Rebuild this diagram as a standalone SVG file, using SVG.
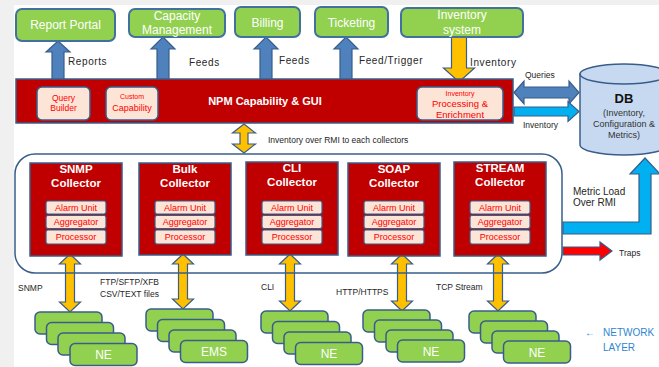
<svg xmlns="http://www.w3.org/2000/svg" width="659" height="367" viewBox="0 0 659 367">
<defs>
<style>
text{font-family:"Liberation Sans",Arial,sans-serif}
.gbox{fill:#92D050;stroke:#41719C;stroke-width:2}
.wt{fill:#fff;font-size:12px;text-anchor:middle}
.lbl{fill:#262626;font-size:10px}
.sl{fill:#262626;font-size:8.5px}
.red{fill:#C00000;stroke:#385D8A;stroke-width:1.5}
.peach{fill:#FCE4D6;stroke:#385D8A;stroke-width:1.5}
.rt{fill:#FF0000;text-anchor:middle}
.ct{fill:#fff;font-size:11.5px;font-weight:bold;text-anchor:middle}
.sub{fill:#FCE4D6;stroke:#385D8A;stroke-width:1.2}
.st{fill:#FF0000;font-size:9px;text-anchor:middle}
.ne{fill:#92D050;stroke:#385D8A;stroke-width:1.5}
.blue{fill:#4F81BD;stroke:#385D8A;stroke-width:1.2}
.orange{fill:#FFC000;stroke:#385D8A;stroke-width:1.2}
.cyan{fill:#00B0F0;stroke:#385D8A;stroke-width:1.2}
.nl{fill:#2E86D0;font-size:10px}
</style>
</defs>
<rect x="0" y="0" width="659" height="367" fill="#F0F0F0"/>
<rect x="14" y="5" width="645" height="362" fill="#FFFFFF"/>

<g id="connectors">
<polygon class="blue" points="58,41 70,52 64,52 64,80 52,80 52,52 46,52"/>
<polygon class="blue" points="163,37 175,49 169,49 169,80 157,80 157,49 151,49"/>
<polygon class="blue" points="266,37 278,49 272,49 272,80 260,80 260,49 254,49"/>
<polygon class="blue" points="346,37 358,49 352,49 352,80 340,80 340,49 334,49"/>
<polygon class="orange" points="451.5,37 466.5,37 466.5,68 474.5,68 459,82 443.5,68 451.5,68"/>
<polygon class="blue" points="514,92.5 524,81 524,87 569,87 569,81 579,92.5 569,104 569,98 524,98 524,104"/>
<polygon class="cyan" points="514,107 568,107 568,101.5 579,111.5 568,121.5 568,116 514,116"/>
<polygon class="orange" points="244,124 255.5,133 248,133 248,144 255.5,144 244,153 232.5,144 240,144 240,133 232.5,133"/>
<path class="cyan" d="M563,222 L639,222 L639,174 L630,174 L645,158 L660,174 L651,174 L651,234 L563,234 Z"/>
<path d="M563,247 L600,247 L600,242 L612,251 L600,260 L600,255 L563,255 Z" fill="#FF0000" stroke="#385D8A" stroke-width="1.2"/>
<polygon class="orange" points="70,254 80.5,264 74.5,264 74.5,302 80.5,302 70,312 59.5,302 65.5,302 65.5,264 59.5,264"/>
<polygon class="orange" points="183,254 193.5,264 187.5,264 187.5,299 193.5,299 183,309 172.5,299 178.5,299 178.5,264 172.5,264"/>
<polygon class="orange" points="290,254 300.5,264 294.5,264 294.5,301 300.5,301 290,311 279.5,301 285.5,301 285.5,264 279.5,264"/>
<polygon class="orange" points="402,254 412.5,264 406.5,264 406.5,301 412.5,301 402,311 391.5,301 397.5,301 397.5,264 391.5,264"/>
<polygon class="orange" points="498,254 508.5,264 502.5,264 502.5,301 508.5,301 498,311 487.5,301 493.5,301 493.5,264 487.5,264"/>
<text class="lbl" x="68" y="65" letter-spacing="0.6">Reports</text>
<text class="lbl" x="189" y="66" letter-spacing="0.6">Feeds</text>
<text class="lbl" x="279" y="64" letter-spacing="0.6">Feeds</text>
<text class="lbl" x="359" y="64" letter-spacing="0.6">Feed/Trigger</text>
<text class="lbl" x="470" y="66" letter-spacing="0.6">Inventory</text>
<text class="sl" x="525" y="78">Queries</text>
<text class="sl" x="523" y="128">Inventory</text>
<text class="sl" x="268" y="143" font-size="9">Inventory over RMI to each collectors</text>
<text class="lbl" x="573" y="195">Metric Load</text>
<text class="lbl" x="573" y="206">Over RMI</text>
<text class="sl" x="619" y="256">Traps</text>
<text class="sl" x="18" y="291">SNMP</text>
<text class="sl" x="100" y="285">FTP/SFTP/XFB</text>
<text class="sl" x="100" y="297">CSV/TEXT files</text>
<text class="sl" x="261" y="290">CLI</text>
<text class="sl" x="336" y="295">HTTP/HTTPS</text>
<text class="sl" x="436" y="290">TCP Stream</text>
</g>

<g id="report-portal"><rect class="gbox" x="16" y="9" width="99" height="32" rx="6"/><text class="wt" x="65.5" y="29">Report Portal</text></g>
<g id="capacity-management"><rect class="gbox" x="129" y="9" width="96" height="28" rx="6"/><text class="wt" x="177" y="20">Capacity</text><text class="wt" x="177" y="34">Management</text></g>
<g id="billing"><rect class="gbox" x="235" y="7" width="65" height="30" rx="6"/><text class="wt" x="267.5" y="27">Billing</text></g>
<g id="ticketing"><rect class="gbox" x="315" y="7" width="73" height="30" rx="6"/><text class="wt" x="351.5" y="27">Ticketing</text></g>
<g id="inventory-system"><rect class="gbox" x="401" y="8" width="122" height="29" rx="6"/><text class="wt" x="462" y="19">Inventory</text><text class="wt" x="462" y="34">system</text></g>

<g id="npm">
<rect class="red" x="16" y="79" width="497" height="44"/>
<text x="265" y="105" fill="#fff" font-size="11px" font-weight="bold" text-anchor="middle">NPM Capability &amp; GUI</text>
<g id="query-builder"><rect class="peach" x="37" y="87" width="53" height="33" rx="5"/><text class="rt" x="63.5" y="101" font-size="8.5">Query</text><text class="rt" x="63.5" y="111" font-size="8.5">Builder</text></g>
<g id="custom-capability"><rect class="peach" x="106" y="87" width="52" height="33" rx="5"/><text class="rt" x="132" y="99" font-size="7">Custom</text><text class="rt" x="132" y="111" font-size="9">Capability</text></g>
<g id="inventory-processing"><rect class="peach" x="417" y="87" width="86" height="33" rx="5"/><text class="rt" x="460" y="96" font-size="7">Inventory</text><text class="rt" x="460" y="107" font-size="9.5">Processing &amp;</text><text class="rt" x="460" y="117.5" font-size="9.5">Enrichment</text></g>
</g>

<g id="db">
<path d="M580,74 L580,145 A44,10 0 0 0 668,145 L668,74 Z" fill="#C6D9F1" stroke="#385D8A" stroke-width="1.5"/>
<ellipse cx="624" cy="74" rx="44" ry="10" fill="#C6D9F1" stroke="#385D8A" stroke-width="1.5"/>
<text x="624" y="103" fill="#111" font-size="13" font-weight="bold" text-anchor="middle">DB</text>
<text x="624" y="116" fill="#333" font-size="9" text-anchor="middle">(Inventory,</text>
<text x="624" y="127" fill="#333" font-size="9" text-anchor="middle">Configuration &amp;</text>
<text x="624" y="138" fill="#333" font-size="9" text-anchor="middle">Metrics)</text>
</g>

<g id="collectors-container"><rect x="15" y="154" width="547" height="119" rx="20" fill="none" stroke="#385D8A" stroke-width="1.5"/></g>

<g id="snmp-collector"><rect class="red" x="30" y="163" width="92" height="93"/><text class="ct" x="76" y="173">SNMP</text><text class="ct" x="76" y="187">Collector</text>
<rect class="sub" x="46" y="201" width="60" height="13" rx="2"/><text class="st" x="76" y="211">Alarm Unit</text>
<rect class="sub" x="46" y="215.5" width="60" height="13" rx="2"/><text class="st" x="76" y="225">Aggregator</text>
<rect class="sub" x="46" y="230" width="60" height="14" rx="2"/><text class="st" x="76" y="240">Processor</text></g>

<g id="bulk-collector"><rect class="red" x="139" y="163" width="92" height="92"/><text class="ct" x="185" y="173">Bulk</text><text class="ct" x="185" y="187">Collector</text>
<rect class="sub" x="155" y="201" width="60" height="13" rx="2"/><text class="st" x="185" y="211">Alarm Unit</text>
<rect class="sub" x="155" y="215.5" width="60" height="13" rx="2"/><text class="st" x="185" y="225">Aggregator</text>
<rect class="sub" x="155" y="230" width="60" height="14" rx="2"/><text class="st" x="185" y="240">Processor</text></g>

<g id="cli-collector"><rect class="red" x="246" y="162" width="92" height="93"/><text class="ct" x="292" y="172">CLI</text><text class="ct" x="292" y="186">Collector</text>
<rect class="sub" x="262" y="201" width="60" height="13" rx="2"/><text class="st" x="292" y="211">Alarm Unit</text>
<rect class="sub" x="262" y="215.5" width="60" height="13" rx="2"/><text class="st" x="292" y="225">Aggregator</text>
<rect class="sub" x="262" y="230" width="60" height="14" rx="2"/><text class="st" x="292" y="240">Processor</text></g>

<g id="soap-collector"><rect class="red" x="348" y="163" width="92" height="93"/><text class="ct" x="394" y="173">SOAP</text><text class="ct" x="394" y="187">Collector</text>
<rect class="sub" x="364" y="201" width="60" height="13" rx="2"/><text class="st" x="394" y="211">Alarm Unit</text>
<rect class="sub" x="364" y="215.5" width="60" height="13" rx="2"/><text class="st" x="394" y="225">Aggregator</text>
<rect class="sub" x="364" y="230" width="60" height="14" rx="2"/><text class="st" x="394" y="240">Processor</text></g>

<g id="stream-collector"><rect class="red" x="454" y="162" width="92" height="94"/><text class="ct" x="500" y="172">STREAM</text><text class="ct" x="500" y="186">Collector</text>
<rect class="sub" x="470" y="201" width="60" height="13" rx="2"/><text class="st" x="500" y="211">Alarm Unit</text>
<rect class="sub" x="470" y="215.5" width="60" height="13" rx="2"/><text class="st" x="500" y="225">Aggregator</text>
<rect class="sub" x="470" y="230" width="60" height="14" rx="2"/><text class="st" x="500" y="240">Processor</text></g>

<g id="ne-snmp">
<rect class="ne" x="35" y="312" width="67" height="22" rx="5"/>
<rect class="ne" x="46.5" y="322.5" width="67" height="22" rx="5"/>
<rect class="ne" x="58" y="333" width="67" height="22" rx="5"/>
<rect class="ne" x="70" y="343.5" width="67" height="22" rx="5"/>
<text class="wt" x="103.5" y="359" font-size="11">NE</text></g>

<g id="ems-bulk">
<rect class="ne" x="146" y="309" width="67" height="22" rx="5"/>
<rect class="ne" x="157.5" y="319.5" width="67" height="22" rx="5"/>
<rect class="ne" x="169" y="330" width="67" height="22" rx="5"/>
<rect class="ne" x="180.5" y="340.5" width="67" height="22" rx="5"/>
<text class="wt" x="214" y="356" font-size="11">EMS</text></g>

<g id="ne-cli">
<rect class="ne" x="261" y="311" width="67" height="22" rx="5"/>
<rect class="ne" x="272.5" y="321.5" width="67" height="22" rx="5"/>
<rect class="ne" x="284" y="332" width="67" height="22" rx="5"/>
<rect class="ne" x="295.5" y="342.5" width="67" height="22" rx="5"/>
<text class="wt" x="329" y="358" font-size="11">NE</text></g>

<g id="ne-soap">
<rect class="ne" x="363" y="310" width="67" height="22" rx="5"/>
<rect class="ne" x="374.5" y="320" width="67" height="22" rx="5"/>
<rect class="ne" x="386" y="330" width="67" height="22" rx="5"/>
<rect class="ne" x="397.5" y="340" width="67" height="22" rx="5"/>
<text class="wt" x="431" y="355.5" font-size="11">NE</text></g>

<g id="ne-stream">
<rect class="ne" x="469" y="311" width="67" height="22" rx="5"/>
<rect class="ne" x="480.5" y="321" width="67" height="22" rx="5"/>
<rect class="ne" x="492" y="331" width="67" height="22" rx="5"/>
<rect class="ne" x="503.5" y="341" width="67" height="22" rx="5"/>
<text class="wt" x="537" y="356.5" font-size="11">NE</text></g>

<g id="network-layer">
<text class="nl" x="585" y="336" font-weight="bold">←</text>
<text class="nl" x="603" y="336">NETWORK</text>
<text class="nl" x="603" y="351">LAYER</text>
</g>
</svg>
